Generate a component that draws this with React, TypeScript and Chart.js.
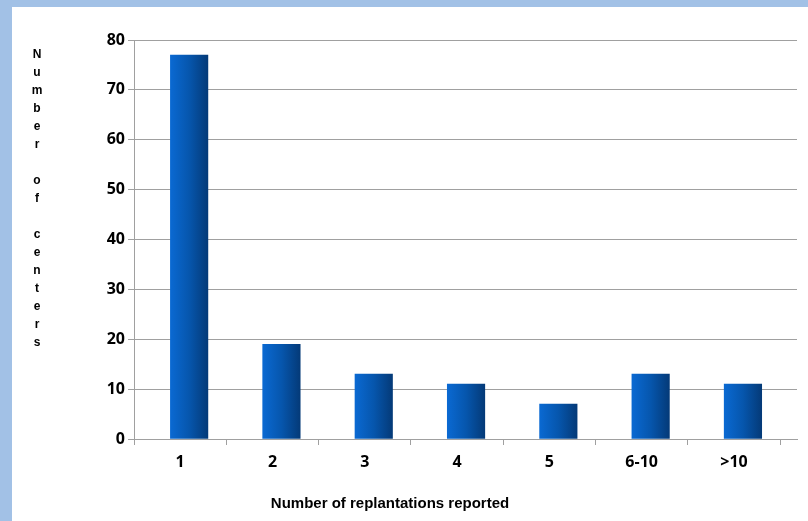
import { useEffect, useRef } from 'react';
import { Chart, registerables } from 'chart.js';

Chart.register(...registerables);

// ---- data ----
const categories = ['1', '2', '3', '4', '5', '6-10', '>10'];
const centerCounts = [77, 19, 13, 11, 7, 13, 11];
const yTickValues = [0, 10, 20, 30, 40, 50, 60, 70, 80];
const yTitle = 'Number of centers';
const xTitle = 'Number of replantations reported';

// ---- layout / style ----
const W = 808;
const H = 521;
const PLOT_LEFT = 134;
const PLOT_RIGHT = 797;
const PLOT_TOP = 40;
const PLOT_BOTTOM = 439;
const CAT_W = 92.3;
const BAR_SHIFT = 9;
const BAR_W = 37.5;
const GRID = '#a0a0a0';
const BAND = '#a2c1e6';

const X_MIN = -0.5;
const X_MAX = X_MIN + (PLOT_RIGHT - PLOT_LEFT) / CAT_W;
const SHIFT = BAR_SHIFT / CAT_W;

const tickFont = { family: '"Open Sans"', weight: 'bold' as const, size: 16 };

const titlesPlugin = {
  id: 'titlesPlugin',
  afterDraw(chart: any) {
    const ctx = chart.ctx;
    ctx.save();
    ctx.fillStyle = '#000';
    ctx.font = 'bold 12px "Liberation Sans"';
    ctx.textAlign = 'center';
    ctx.textBaseline = 'middle';
    yTitle.split('').forEach((ch, i) => {
      ctx.fillText(ch, 37, 55 + i * 17.98);
    });
    ctx.font = 'bold 15px "Liberation Sans"';
    ctx.textBaseline = 'alphabetic';
    ctx.fillText(xTitle, 390, 508);
    ctx.restore();
  },
};

export default function App() {
  const ref = useRef<HTMLCanvasElement | null>(null);

  useEffect(() => {
    if (!ref.current) return;
    const n = categories.length;
    const xTicks: number[] = [];
    for (let i = 0; i <= 2 * n; i++) xTicks.push(i / 2 - 0.5);

    const chart = new Chart(ref.current, {
      type: 'bar',
      data: {
        datasets: [
          {
            label: yTitle,
            data: categories.map((_, i) => ({ x: i, y: centerCounts[i] })) as any,
            xAxisID: 'xb',
            yAxisID: 'y',
            barThickness: BAR_W,
            borderWidth: 0,
            backgroundColor: (c: any) => {
              const chart = c.chart;
              const xb = chart.scales && chart.scales.xb;
              if (!xb || c.type !== 'data') return '#0558b0';
              const px = xb.getPixelForValue(c.dataIndex);
              if (!Number.isFinite(px)) return '#0558b0';
              const g = chart.ctx.createLinearGradient(px - BAR_W / 2, 0, px + BAR_W / 2, 0);
              g.addColorStop(0, '#0a69d2');
              g.addColorStop(0.5, '#0656ad');
              g.addColorStop(1, '#043a78');
              return g;
            },
          },
        ],
      },
      options: {
        animation: false,
        responsive: false,
        maintainAspectRatio: false,
        devicePixelRatio: 1,
        layout: { padding: { left: 0, right: W - PLOT_RIGHT, top: PLOT_TOP, bottom: 0 } },
        plugins: {
          legend: { display: false },
          tooltip: { enabled: false },
          title: { display: false },
        },
        scales: {
          x: {
            type: 'linear',
            position: 'bottom',
            min: X_MIN,
            max: X_MAX,
            offset: false,
            afterBuildTicks: (s: any) => {
              s.ticks = xTicks.map((v) => ({ value: v }));
            },
            afterFit: (s: any) => {
              s.height = H - PLOT_BOTTOM;
            },
            ticks: {
              autoSkip: false,
              maxRotation: 0,
              minRotation: 0,
              padding: 8,
              color: '#000',
              font: tickFont,
              callback: (v: any) => (Number.isInteger(v) ? categories[v] : ''),
            },
            grid: {
              offset: false,
              drawOnChartArea: false,
              drawTicks: true,
              tickLength: 6,
              color: GRID,
              tickColor: (c: any) =>
                c.tick && Number.isInteger(c.tick.value) ? 'rgba(0,0,0,0)' : GRID,
            },
            border: { display: true, color: GRID },
          },
          xb: {
            type: 'linear',
            axis: 'x',
            display: false,
            offset: false,
            min: X_MIN - SHIFT,
            max: X_MAX - SHIFT,
            grid: { offset: false },
          },
          y: {
            type: 'linear',
            position: 'left',
            min: 0,
            max: 80,
            afterBuildTicks: (s: any) => {
              s.ticks = yTickValues.map((v) => ({ value: v }));
            },
            afterFit: (s: any) => {
              s.width = PLOT_LEFT;
            },
            ticks: { padding: 3, color: '#000', font: tickFont },
            grid: { color: GRID, tickLength: 6, lineWidth: 1 },
            border: { display: true, color: GRID },
          },
        },
      } as any,
      plugins: [titlesPlugin],
    });
    return () => chart.destroy();
  }, []);

  return (
    <div style={{ position: 'fixed', left: 0, top: 0, width: W, height: H, background: BAND }}>
      <div style={{ position: 'absolute', left: 12, top: 7, width: W - 12, height: H - 7, background: '#fff' }} />
      <canvas
        ref={ref}
        width={W}
        height={H}
        style={{ position: 'absolute', left: 0, top: 0, width: W, height: H }}
      />
    </div>
  );
}
